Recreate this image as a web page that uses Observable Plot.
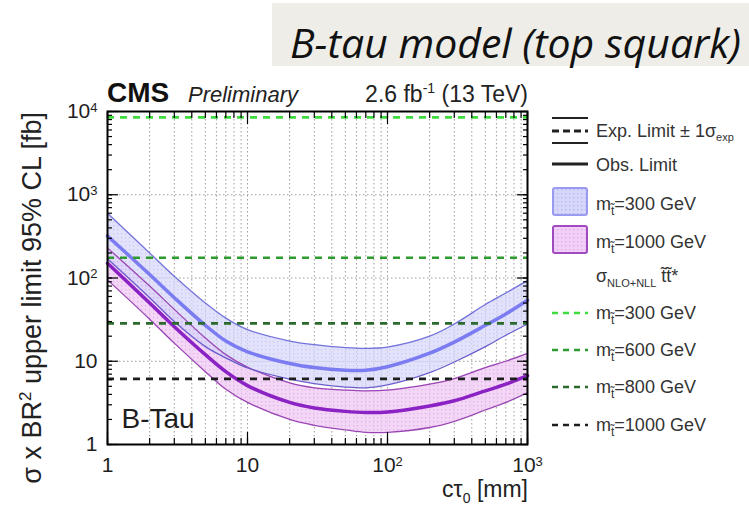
<!DOCTYPE html>
<html><head><meta charset="utf-8">
<script src="https://cdn.jsdelivr.net/npm/d3@7"></script>
<script src="https://cdn.jsdelivr.net/npm/@observablehq/plot@0.6"></script>
<style>
html,body{margin:0;padding:0;background:#fff;}
#wrap{position:relative;width:749px;height:505px;overflow:hidden;background:#fff;}
#wrap svg{position:absolute;left:0;top:0;}
#over{pointer-events:none;}
</style></head>
<body><div id="wrap"></div>
<script>
// ---- data ----
const ctau = [1, 2, 3, 5, 7, 10, 20, 30, 50, 70, 100, 200, 300, 500, 700, 1000];
// m(stop) = 300 GeV : expected limit and +-1 sigma band [fb]
const exp300 = [320, 110, 58, 27, 17.5, 13, 9.4, 8.4, 7.8, 7.8, 8.6, 12.5, 17, 27, 37, 54];
const up300  = [600, 200, 105, 50, 33, 24, 17.5, 15.8, 14.6, 14.3, 14.8, 20, 28, 48, 66, 93];
const dn300  = [170, 58, 30, 15, 11, 8.3, 6.1, 5.4, 4.9, 4.8, 5.2, 7.3, 9.8, 15, 20.5, 28];
// m(stop) = 1000 GeV
const exp1000 = [150, 50, 26, 12, 7.5, 5.1, 3.2, 2.75, 2.5, 2.42, 2.45, 2.9, 3.35, 4.4, 5.3, 6.7];
const up1000  = [230, 80, 42, 19, 12, 8.5, 5.5, 4.8, 4.5, 4.4, 4.5, 5.3, 6.2, 8.4, 10, 12.4];
const dn1000  = [95, 32, 16.5, 7.5, 4.6, 3.2, 2.0, 1.7, 1.5, 1.4, 1.4, 1.6, 1.9, 2.6, 3.2, 4.2];
// NLO+NLL stop pair cross sections [fb]
const xsecMass   = [300, 600, 800, 1000];
const xsecValues = [8500, 175, 28.5, 6.15];
const xsecColors = ["#3fdc3f", "#2f9a2f", "#2a6a2c", "#1e1e1e"];
// axis tick labels
const xMajor = [1, 10, 100, 1000];
const xTickLabels = ["1", "10", "10^2", "10^3"];
const yMajor = [1, 10, 100, 1000, 10000];
const yTickLabels = ["1", "10", "10^2", "10^3", "10^4"];

const rows300 = ctau.map((x, i) => ({x, exp: exp300[i], hi: up300[i], lo: dn300[i]}));
const rows1000 = ctau.map((x, i) => ({x, exp: exp1000[i], hi: up1000[i], lo: dn1000[i]}));
const xsecRows = xsecMass.map((m, i) => ({m, xs: xsecValues[i], color: xsecColors[i]}));
const xMinor = d3.scaleLog().domain([1, 1000]).ticks();
const yMinor = d3.scaleLog().domain([1, 10000]).ticks();
const yGrid = yMajor.slice(1, -1);

const FONT = "'Liberation Sans', Arial, Helvetica, sans-serif";
const CURVE = "catmull-rom";
const wrap = document.getElementById("wrap");

const tickOpts = {tickFormat: () => "", label: null, stroke: "#000", strokeWidth: 1.2};
const chart = Plot.plot({
  width: 749, height: 505,
  marginLeft: 107, marginRight: 222, marginTop: 111, marginBottom: 61,
  x: {type: "log", domain: [1, 1000]},
  y: {type: "log", domain: [1, 10000]},
  style: {fontFamily: FONT, fontSize: "21px", color: "#1e1e1e", background: "transparent", overflow: "visible"},
  marks: [
    Plot.gridX(xMinor, {stroke: "#8a8a8a", strokeOpacity: 0.85, strokeWidth: 1, strokeDasharray: "1.5,2.5"}),
    Plot.gridY(yGrid, {stroke: "#8a8a8a", strokeOpacity: 0.85, strokeWidth: 1, strokeDasharray: "1.5,2.5"}),
    Plot.areaY(rows1000, {x: "x", y1: "lo", y2: "hi", fill: "url(#dotP)", fillOpacity: 0.85, curve: CURVE}),
    Plot.areaY(rows300, {x: "x", y1: "lo", y2: "hi", fill: "url(#dotB)", fillOpacity: 0.7, curve: CURVE}),
    Plot.line(rows1000, {x: "x", y: "hi", stroke: "#9a45b4", strokeWidth: 1.3, curve: CURVE}),
    Plot.line(rows1000, {x: "x", y: "lo", stroke: "#9a45b4", strokeWidth: 1.3, curve: CURVE}),
    Plot.line(rows300, {x: "x", y: "hi", stroke: "#7474dc", strokeWidth: 1.3, curve: CURVE}),
    Plot.line(rows300, {x: "x", y: "lo", stroke: "#6a5ccc", strokeWidth: 1.3, curve: CURVE}),
    Plot.line(rows1000, {x: "x", y: "exp", stroke: "#8a22c4", strokeWidth: 3.5, curve: CURVE}),
    Plot.line(rows300, {x: "x", y: "exp", stroke: "#7c7cf2", strokeWidth: 3.5, curve: CURVE}),
    ...xsecRows.map(r => Plot.ruleY([r], {y: "xs", stroke: r.color, strokeWidth: 2.6, strokeDasharray: "7,6"})),
    Plot.text(["B-Tau"], {frameAnchor: "bottom-left", dx: 14, dy: -17, fontSize: 28, fill: "#1e1e1e", textAnchor: "start", lineAnchor: "bottom"}),
    Plot.frame({stroke: "#000", strokeWidth: 2}),
    Plot.axisX(xMinor, {anchor: "bottom", tickSize: -6, ...tickOpts}),
    Plot.axisX(xMajor, {anchor: "bottom", tickSize: -12, ...tickOpts}),
    Plot.axisX(xMinor, {anchor: "top", tickSize: -6, ...tickOpts}),
    Plot.axisX(xMajor, {anchor: "top", tickSize: -12, ...tickOpts}),
    Plot.axisY(yMinor, {anchor: "left", tickSize: -5, ...tickOpts}),
    Plot.axisY(yMajor, {anchor: "left", tickSize: -11, ...tickOpts}),
    Plot.axisY(yMinor, {anchor: "right", tickSize: -5, ...tickOpts}),
    Plot.axisY(yMajor, {anchor: "right", tickSize: -11, ...tickOpts}),
    Plot.axisX(xMajor, {anchor: "bottom", tickSize: 0, tickPadding: 13, label: null,
      tickFormat: d => xTickLabels[xMajor.indexOf(d)]}),
    Plot.axisY(yMajor, {anchor: "left", tickSize: 0, tickPadding: 10, label: null,
      tickFormat: d => yTickLabels[yMajor.indexOf(d)]})
  ]
});
wrap.appendChild(chart);

// exponents as raised text
const NS = "http://www.w3.org/2000/svg";
chart.querySelectorAll("text").forEach(t => {
  const m = /^10\^(\d)$/.exec(t.textContent);
  if (m) {
    t.textContent = "10";
    const ts = document.createElementNS(NS, "tspan");
    ts.setAttribute("dy", "-0.5em");
    ts.setAttribute("font-size", "0.62em");
    ts.textContent = m[1];
    t.appendChild(ts);
  }
});

// overlay: title, header, axis titles, legend
let legend = "";
const legY = [313, 350, 387, 425];
xsecRows.forEach((r, i) => {
  legend += `<line x1="552" x2="588" y1="${legY[i]}" y2="${legY[i]}" stroke="${r.color}" stroke-width="2.6" stroke-dasharray="6,5"/>`;
  legend += `<text x="596" y="${legY[i] + 6}" font-size="18" fill="#333">m<tspan dy="5" font-size="12">t̃</tspan><tspan dy="-5">=${r.m} GeV</tspan></text>`;
});

const over = `<svg id="over" xmlns="${NS}" width="749" height="505" viewBox="0 0 749 505" font-family="${FONT}">
<defs>
 <pattern id="dotB" width="4" height="4" patternUnits="userSpaceOnUse"><rect width="4" height="4" fill="#d6d6fa"/><rect x="1" y="1" width="1.3" height="1.3" fill="#b4b4ee"/></pattern>
 <pattern id="dotP" width="4" height="4" patternUnits="userSpaceOnUse"><rect width="4" height="4" fill="#f2cff6"/><rect x="1" y="1" width="1.3" height="1.3" fill="#dca6e8"/></pattern>
</defs>
<rect x="272" y="3" width="477" height="63" fill="#eeede7"/>
<text x="290" y="58" font-family="'Open Sans', sans-serif" font-style="italic" font-size="41" fill="#111">B-tau model (top squark)</text>
<text x="107" y="102" font-weight="bold" font-size="28" fill="#111">CMS</text>
<text x="188" y="102" font-style="italic" font-size="22" fill="#222">Preliminary</text>
<text x="528" y="102" text-anchor="end" font-size="23" fill="#222">2.6 fb<tspan dy="-9" font-size="14">-1</tspan><tspan dy="9"> (13 TeV)</tspan></text>
<text transform="translate(41,112) rotate(-90)" text-anchor="end" font-size="27" fill="#222">σ x BR<tspan dy="-10" font-size="17">2</tspan><tspan dy="10"> upper limit 95% CL [fb]</tspan></text>
<text x="528" y="497" text-anchor="end" font-size="23" fill="#222">cτ<tspan dy="6" font-size="14">0</tspan><tspan dy="-6"> [mm]</tspan></text>
<g stroke="#222">
 <line x1="552" x2="588" y1="118" y2="118" stroke-width="2"/>
 <line x1="552" x2="588" y1="131" y2="131" stroke-width="3" stroke-dasharray="7,4"/>
 <line x1="552" x2="588" y1="143" y2="143" stroke-width="2"/>
 <line x1="552" x2="588" y1="164" y2="164" stroke-width="3"/>
</g>
<text x="596" y="137" font-size="18" fill="#333">Exp. Limit ± 1σ<tspan dy="4" font-size="11">exp</tspan></text>
<text x="596" y="171" font-size="18" fill="#333">Obs. Limit</text>
<rect x="553" y="188" width="34" height="27" rx="2" fill="url(#dotB)" stroke="#9a9af0" stroke-width="2"/>
<text x="596" y="210" font-size="18" fill="#333">m<tspan dy="5" font-size="12">t̃</tspan><tspan dy="-5">=300 GeV</tspan></text>
<rect x="553" y="226" width="34" height="27" rx="2" fill="url(#dotP)" stroke="#a04cc0" stroke-width="2"/>
<text x="596" y="248" font-size="18" fill="#333">m<tspan dy="5" font-size="12">t̃</tspan><tspan dy="-5">=1000 GeV</tspan></text>
<text x="596" y="282" font-size="18" fill="#333">σ<tspan dy="5" font-size="11">NLO+NLL</tspan><tspan dy="-5"> t̃t̃*</tspan></text>
${legend}
</svg>`;
wrap.insertAdjacentHTML("beforeend", over);
</script>
</body></html>
